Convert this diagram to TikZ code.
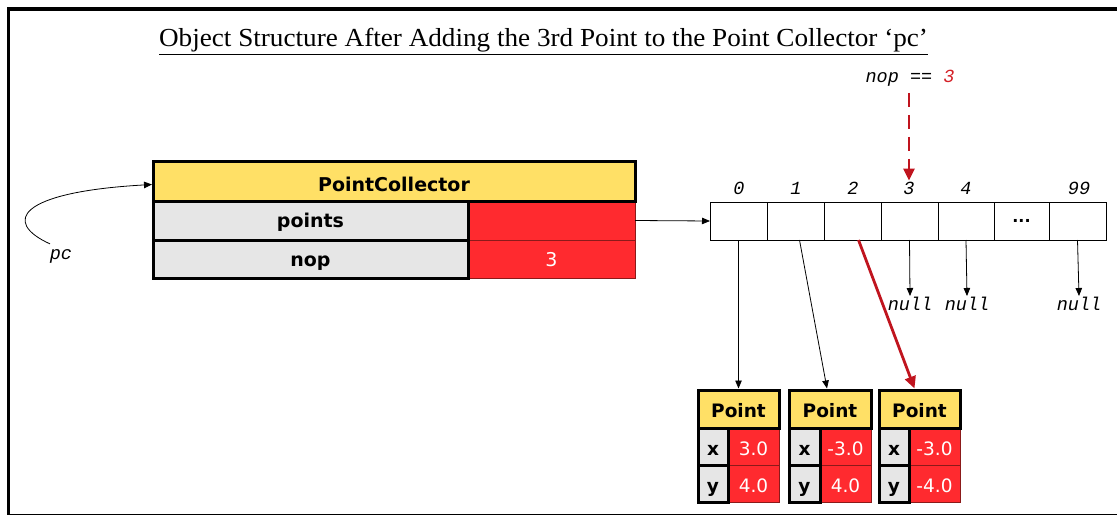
\documentclass[tikz,border=0pt]{standalone}
\usepackage{fontspec}
\setmainfont{Liberation Serif}
\newfontfamily\dejavu{DejaVu Sans}
\newfontfamily\mono{Liberation Mono}
\usetikzlibrary{arrows.meta,calc}
\definecolor{hdryellow}{HTML}{FFE066}
\definecolor{cellgray}{HTML}{E6E6E6}
\definecolor{cellred}{HTML}{FF2A2F}
\definecolor{arrowred}{HTML}{C0141E}
\definecolor{darkred}{HTML}{8B1A1A}
\definecolor{labelred}{HTML}{D42027}
\tikzset{
  box/.style={anchor=north west, inner sep=0pt, outer sep=0pt},
  hdrbox/.style={box, draw=black, line width=3pt, fill=hdryellow},
  graybox/.style={box, draw=black, line width=3pt, fill=cellgray},
  redbox/.style={box, draw=darkred, line width=1pt, fill=cellred, text=white},
  arrcell/.style={box, draw=black, line width=0.8pt, fill=white, minimum height=38pt},
  monolabel/.style={font=\mono\itshape\fontsize{18.5}{18.5}\selectfont, inner sep=1pt},
  cfont/.style={font=\dejavu\bfseries\fontsize{19}{19}\selectfont, text depth=0pt},
  cvfont/.style={font=\dejavu\fontsize{19}{19}\selectfont, text depth=0pt},
  pfont/.style={font=\dejavu\bfseries\fontsize{18.5}{18.5}\selectfont, text depth=0pt},
  vfont/.style={font=\dejavu\fontsize{18.5}{18.5}\selectfont, text depth=0pt},
  thinarrow/.style={draw=black, line width=0.8pt, -{Triangle[length=8pt,width=6.5pt]}},
  redarrow/.style={draw=arrowred, line width=2.8pt, -{Triangle[length=12pt,width=11pt]}},
}
\begin{document}
\begin{tikzpicture}[x=1pt,y=-1pt]
\useasboundingbox (0,0) rectangle (1117,516);
% frame
\draw[line width=4pt] (7,9) -- (1117,9);
\draw[line width=3pt] (8.5,7.5) -- (8.5,515);
\draw[line width=1.5pt] (7,514.5) -- (1117,514.5);
% title
\node[font=\fontsize{26}{26}\selectfont, inner sep=0pt, anchor=base] (title) at (543.5,47) {\scalebox{1.045}[1]{\underline{Object Structure After Adding the 3rd Point to the Point Collector ‘pc’}}};

% PointCollector
\node[redbox, minimum width=167pt, minimum height=39pt] (ptsval) at (468,201) {};
\node[redbox, minimum width=167pt, minimum height=38pt, cvfont, text height=14pt] (nopval) at (468,240) {3};
\node[graybox, minimum width=315pt, minimum height=39pt, cfont, text height=14pt] (ptsname) at (153,201) {points};
\node[graybox, minimum width=315pt, minimum height=38pt, cfont, text height=14pt] (nopname) at (153,240) {nop};
\node[hdrbox, minimum width=482pt, minimum height=39pt, cfont, text height=19pt] (pchdr) at (153,162) {PointCollector};

% pc reference
\node[monolabel] (pc) at (61,256) {pc};
\draw[thinarrow] ($(pc.north)+(-11,-4)$) .. controls (2,222) and (18,192) .. ($(pchdr.west)+(-1,3)$);

% array
\node[arrcell, minimum width=57pt] (a0) at (710,202) {};
\node[arrcell, minimum width=57pt] (a1) at (767,202) {};
\node[arrcell, minimum width=57pt] (a2) at (824,202) {};
\node[arrcell, minimum width=57pt] (a3) at (881,202) {};
\node[arrcell, minimum width=56pt] (a4) at (938,202) {};
\node[arrcell, minimum width=55pt, font=\dejavu\bfseries\fontsize{16}{16}\selectfont] (a5) at (994,202) {...};
\node[arrcell, minimum width=57pt] (a6) at (1049,202) {};

\node[monolabel] (i0) at (739,188) {0};
\node[monolabel] (i1) at (796,188) {1};
\node[monolabel] (i2) at (853,188) {2};
\node[monolabel] (i3) at (909,188) {3};
\node[monolabel] (i4) at (966,188) {4};
\node[monolabel] (i6) at (1079,188) {99};

\draw[thinarrow] (ptsval.east) -- (a0.west);

% nop == 3
\node[monolabel] (noplbl) at (910,78) {nop == \textcolor{labelred}{3}};
\draw[redarrow, dash pattern=on 14pt off 8pt] (909,93) -- (i3.north);

% nulls
\node[monolabel] (n3) at (910,304) {null};
\node[monolabel] (n4) at (967,304) {null};
\node[monolabel] (n6) at (1079,304) {null};
\draw[thinarrow] (a3.south) -- (n3.north);
\draw[thinarrow] (a4.south) -- (n4.north);
\draw[thinarrow] (a6.south) -- (n6.north);

% Point objects
% box 1
\node[redbox, minimum width=51pt, minimum height=37pt, vfont, text height=17pt] (p1xv) at (728,428) {3.0};
\node[redbox, minimum width=51pt, minimum height=37pt, vfont, text height=17pt] (p1yv) at (728,465) {4.0};
\node[graybox, minimum width=30pt, minimum height=37pt, pfont, text height=17pt] (p1x) at (698,428) {x};
\node[graybox, minimum width=30pt, minimum height=37pt, pfont, text height=17pt] (p1y) at (698,465) {y};
\node[hdrbox, minimum width=81pt, minimum height=38pt, pfont, text height=16pt] (p1) at (698,390) {Point};
% box 2
\node[redbox, minimum width=51pt, minimum height=37pt, vfont, text height=17pt] (p2xv) at (820,428) {-3.0};
\node[redbox, minimum width=51pt, minimum height=37pt, vfont, text height=17pt] (p2yv) at (820,465) {4.0};
\node[graybox, minimum width=31pt, minimum height=37pt, pfont, text height=17pt] (p2x) at (789,428) {x};
\node[graybox, minimum width=31pt, minimum height=37pt, pfont, text height=17pt] (p2y) at (789,465) {y};
\node[hdrbox, minimum width=82pt, minimum height=38pt, pfont, text height=16pt] (p2) at (789,390) {Point};
% box 3
\node[redbox, minimum width=51pt, minimum height=37pt, vfont, text height=17pt] (p3xv) at (909,428) {-3.0};
\node[redbox, minimum width=51pt, minimum height=37pt, vfont, text height=17pt] (p3yv) at (909,465) {-4.0};
\node[graybox, minimum width=30pt, minimum height=37pt, pfont, text height=17pt] (p3x) at (879,428) {x};
\node[graybox, minimum width=30pt, minimum height=37pt, pfont, text height=17pt] (p3y) at (879,465) {y};
\node[hdrbox, minimum width=81pt, minimum height=38pt, pfont, text height=16pt] (p3) at (879,390) {Point};

% references from array to points
\draw[thinarrow] (a0.south) -- ($(p1.north)+(0,-1.5)$);
\draw[thinarrow] ($(a1.south)+(4,0)$) -- ($(p2.north)+(-3,-1.5)$);
\draw[redarrow] ($(a2.south)+(6,0)$) -- ($(p3.north)+(-5,-1.5)$);
\end{tikzpicture}
\end{document}
